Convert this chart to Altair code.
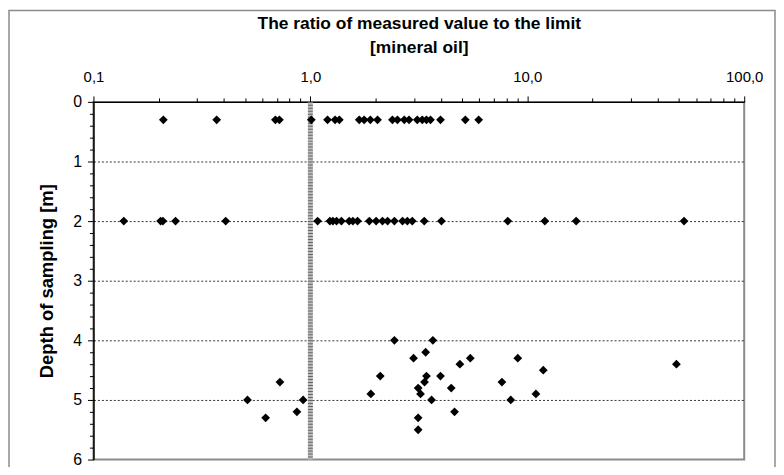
import altair as alt
import pandas as pd

# Ratio values (measured / limit)
ratio_d03 = [0.21, 0.37, 0.69, 0.72, 1.01, 1.20, 1.30, 1.36, 1.68, 1.77, 1.89, 2.04,
             2.39, 2.52, 2.71, 2.85, 3.11, 3.28, 3.43, 3.58, 3.98, 5.18, 5.97]
ratio_d2 = [0.138, 0.204, 0.209, 0.239, 0.407, 1.08, 1.23, 1.27, 1.32, 1.39, 1.51,
            1.57, 1.65, 1.87, 2.01, 2.15, 2.27, 2.44, 2.66, 2.80, 2.95, 3.35, 4.02,
            8.13, 12.05, 16.8, 52.8]
ratio_deep = [2.44, 3.67, 3.40, 2.99, 5.46, 9.04, 4.89, 48.7, 11.85, 2.10, 3.43,
              3.98, 0.724, 3.36, 7.64, 3.14, 4.46, 1.90, 3.22, 10.96, 0.513, 0.926,
              3.62, 8.39, 0.867, 4.62, 0.622, 3.14, 3.14]
depth_deep = [4.0, 4.0, 4.2, 4.3, 4.3, 4.3, 4.4, 4.4, 4.5, 4.6, 4.6,
              4.6, 4.7, 4.7, 4.7, 4.8, 4.8, 4.9, 4.9, 4.9, 5.0, 5.0,
              5.0, 5.0, 5.2, 5.2, 5.3, 5.3, 5.5]

limit_value = [1.0]
x_major = [0.1, 1, 10, 100]
x_minor = [m * d for d in (0.1, 1, 10) for m in range(2, 10)]
y_major = [0, 1, 2, 3, 4, 5, 6]
y_minor = [round(i * 0.2, 1) for i in range(31) if i % 5 != 0]
y_grid = [1, 2, 3, 4, 5]

rows = [(r, 0.3) for r in ratio_d03] + [(r, 2.0) for r in ratio_d2] + \
       list(zip(ratio_deep, depth_deep))
df = pd.DataFrame(rows, columns=["ratio", "depth"])

FONT = "Liberation Sans"
xscale = alt.Scale(type="log", domain=[0.1, 100], nice=False)
yscale = alt.Scale(domain=[0, 6], reverse=True, nice=False, zero=False)

main_x = alt.Axis(orient="top", values=x_major,
                  labelExpr="replace(format(datum.value, '.1f'), '.', ',')",
                  labelFlush=False, tickSize=6, tickColor="black", domainColor="black",
                  domainWidth=1.5, grid=False, labelFont=FONT, labelFontSize=15,
                  labelColor="black", labelPadding=12,
                  title=["The ratio of measured value to the limit", "[mineral oil]"],
                  titleFont=FONT, titleFontSize=17.5, titleFontWeight="bold",
                  titleColor="black", titleLineHeight=24, titlePadding=13)
main_y = alt.Axis(orient="left", values=y_major, tickSize=6, tickColor="black",
                  domainColor="black", domainWidth=1.5, grid=False,
                  labelFont=FONT, labelFontSize=16, labelColor="black", labelPadding=6,
                  title="Depth of sampling [m]", titleFont=FONT, titleFontSize=18.5,
                  titleFontWeight="bold", titleColor="black", titlePadding=16)
minor_x = alt.Axis(orient="top", values=x_minor, tickSize=4, tickColor="black",
                   labels=False, domain=False, grid=False, title=None)
minor_y = alt.Axis(orient="left", values=y_minor, tickSize=4, tickColor="black",
                   labels=False, domain=False, grid=False, title=None)
grid_y = alt.Axis(orient="left", values=y_grid, ticks=False, labels=False,
                  domain=False, grid=True, gridColor="black", gridDash=[2, 2],
                  gridWidth=0.8, title=None)

border = alt.Chart(pd.DataFrame({"k": [0]})).mark_rect(
    fillOpacity=0, stroke="#8c8c8c", strokeWidth=1.5
).encode(x=alt.value(-85), x2=alt.value(686), y=alt.value(-92), y2=alt.value(420))

grid_layer = alt.Chart(df).mark_point(opacity=0).encode(
    x=alt.X("ratio:Q", scale=xscale, axis=None),
    y=alt.Y("depth:Q", scale=yscale, axis=grid_y))

minor_layer = alt.Chart(df).mark_point(opacity=0).encode(
    x=alt.X("ratio:Q", scale=xscale, axis=minor_x),
    y=alt.Y("depth:Q", scale=yscale, axis=minor_y))

lim_df = pd.DataFrame({"ratio": limit_value})
bar_back = alt.Chart(lim_df).mark_rule(color="#bdbdbd", strokeWidth=5).encode(
    x=alt.X("ratio:Q", scale=xscale, axis=None))
bar_front = alt.Chart(lim_df).mark_rule(color="#666666", strokeWidth=5,
                                         strokeDash=[1, 2]).encode(
    x=alt.X("ratio:Q", scale=xscale, axis=None))

points = alt.Chart(df).mark_point(shape="diamond", filled=True, color="black",
                                  size=78, opacity=1).encode(
    x=alt.X("ratio:Q", scale=xscale, axis=main_x),
    y=alt.Y("depth:Q", scale=yscale, axis=main_y))

chart = alt.layer(grid_layer, minor_layer, bar_back, bar_front, points, border).resolve_axis(
    x="independent", y="independent"
).properties(
    width=655, height=360,
    autosize=alt.AutoSizeParams(type="none"),
    padding={"left": 86, "top": 93, "right": 32, "bottom": 6},
    background="white",
).configure_view(stroke="#8a8a8a", strokeWidth=2)

chart.save("out.html", embed_options={"renderer": "svg", "actions": False})
